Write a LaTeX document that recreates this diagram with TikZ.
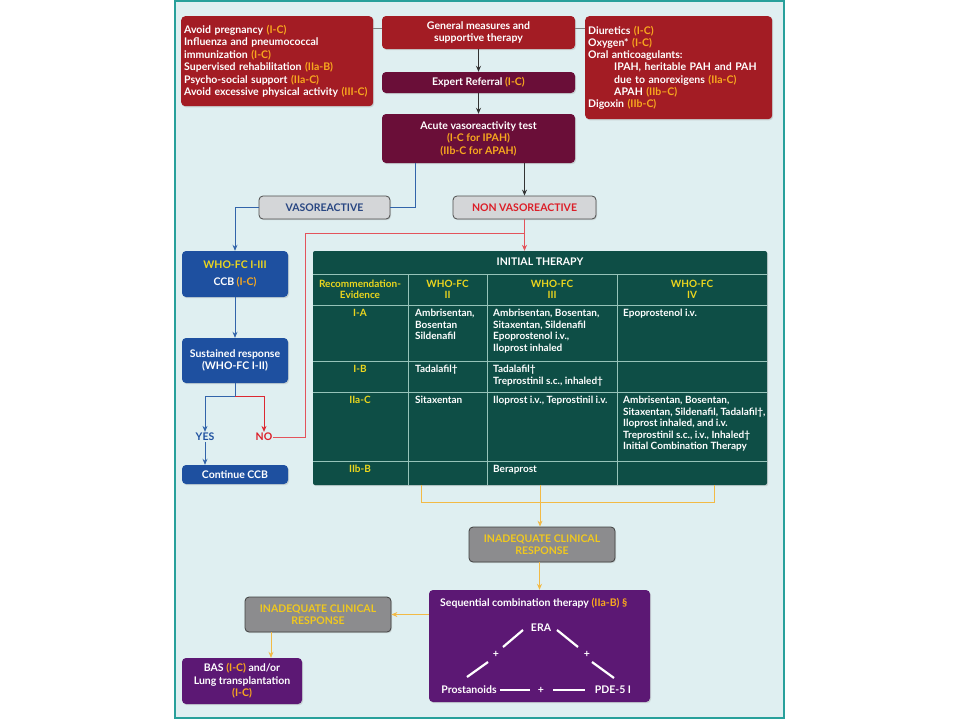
\documentclass[tikz,border=0pt]{standalone}
\usepackage{fontspec}
\setmainfont{Lato}
\usetikzlibrary{arrows.meta,shadows}
\definecolor{bgc}{RGB}{223,239,241}
\definecolor{framec}{RGB}{40,160,155}
\definecolor{redc}{RGB}{163,28,36}
\definecolor{maroonc}{RGB}{106,14,56}
\definecolor{bluec}{RGB}{30,80,160}
\definecolor{navyt}{RGB}{40,70,130}
\definecolor{redt}{RGB}{220,30,40}
\definecolor{grayA}{RGB}{212,214,216}
\definecolor{grayB}{RGB}{140,140,142}
\definecolor{greenc}{RGB}{14,78,70}
\definecolor{gridc}{RGB}{150,195,185}
\definecolor{purplec}{RGB}{92,24,116}
\definecolor{orangeT}{RGB}{248,168,30}
\definecolor{yellowT}{RGB}{236,214,30}
\definecolor{inadT}{RGB}{240,200,30}
\definecolor{orangeL}{RGB}{242,186,70}
\definecolor{blueL}{RGB}{50,100,170}
\definecolor{redL}{RGB}{220,40,50}
\newcommand\ho[1]{\textcolor{orangeT}{#1}}
\newcommand\hy[1]{\textcolor{yellowT}{#1}}
\tikzset{
  base/.style={rounded corners=4pt, text=white, font=\bfseries\fontsize{10.5}{12.5}\selectfont, inner sep=3pt,
    drop shadow={opacity=0.25, shadow xshift=1pt, shadow yshift=-1.2pt}},
  redbox/.style={base, fill=redc},
  maroonbox/.style={base, fill=maroonc},
  bluebox/.style={base, fill=bluec},
  purplebox/.style={base, fill=purplec},
  graybox/.style={base, fill=grayA, draw=black!70, line width=0.8pt},
  inadbox/.style={base, fill=grayB, draw=black!75, line width=0.8pt, text=inadT},
  tablebox/.style={fill=greenc, rounded corners=2pt, drop shadow={opacity=0.25, shadow xshift=1pt, shadow yshift=-1.2pt}},
  cell/.style={text=white, font=\bfseries\fontsize{10}{11.5}\selectfont, align=left, inner sep=0pt, anchor=north west},
  chead/.style={text=yellowT, font=\bfseries\fontsize{10}{11}\selectfont, align=center, inner sep=0pt},
  arr/.style={-{Stealth[length=6pt,width=5pt]}},
  blk/.style={draw=black!80, line width=0.8pt},
  bl/.style={draw=blueL, line width=0.9pt},
  rd/.style={draw=redL, line width=0.9pt},
  rdthin/.style={draw=redL!80, line width=0.6pt},
  og/.style={draw=orangeL, line width=0.8pt},
  grid/.style={draw=gridc, line width=0.8pt},
  plusnode/.style={text=white, font=\bfseries\fontsize{10.5}{12}\selectfont, inner sep=1pt},
  wline/.style={draw=white, line width=2.2pt},
}
\begin{document}
\begin{tikzpicture}[x=1pt,y=-1pt]
\useasboundingbox (0,0) rectangle (960,720);
\fill[white] (0,0) rectangle (960,720);
\fill[bgc] (175,1) rectangle (784,718);
\draw[framec, line width=1.5pt] (175,1) rectangle (784,718);

% top boxes
\node[redbox, anchor=north west, minimum width=192pt, minimum height=90pt, text width=186pt, align=left] (gl) at (181,16)
 {Avoid pregnancy \ho{(I-C)}\\Influenza and pneumococcal\\immunization \ho{(I-C)}\\Supervised rehabilitation \ho{(IIa-B)}\\Psycho-social support \ho{(IIa-C)}\\Avoid excessive physical activity \ho{(III-C)}};
\node[redbox, minimum width=193pt, minimum height=33pt, align=center] (gen) at (478.5,32.5) {General measures and\\supportive therapy};
\node[maroonbox, minimum width=193pt, minimum height=21pt] (exp) at (478.5,82.5) {Expert Referral \ho{(I-C)}};
\node[maroonbox, minimum width=193pt, minimum height=49pt, align=center] (acute) at (478.5,138.5) {Acute vasoreactivity test\\\ho{(I-C for IPAH)}\\\ho{(IIb-C for APAH)}};
\node[redbox, anchor=north west, minimum width=187pt, minimum height=103pt, text width=181pt, align=left, font=\bfseries\fontsize{10.5}{12.2}\selectfont] (gr) at (585,16)
 {Diuretics \ho{(I-C)}\\Oxygen* \ho{(I-C)}\\Oral anticoagulants:\\\hspace*{26pt}IPAH, heritable PAH and PAH\\\hspace*{26pt}due to anorexigens \ho{(IIa-C)}\\\hspace*{26pt}APAH \ho{(IIb--C)}\\Digoxin \ho{(IIb-C)}};

\draw[draw=gray, line width=0.8pt] (gl.east |- 0,28) -- (gen.west |- 0,28);
\draw[draw=gray, line width=0.8pt] (gen.east |- 0,28) -- (gr.west |- 0,28);
\draw[blk,arr] (gen.south) -- (exp.north);
\draw[blk,arr] (exp.south) -- (acute.north);

% vasoreactive split
\node[graybox, minimum width=131pt, minimum height=23pt, text=navyt] (vaso) at (324.5,207.5) {VASOREACTIVE};
\node[graybox, minimum width=143pt, minimum height=23pt, text=redt] (nonv) at (524.5,207.5) {NON VASOREACTIVE};
\draw[bl] (acute.south -| 415,0) |- (vaso.east);
\draw[blk,arr] (acute.south -| nonv.north) -- (nonv.north);

% left column
\node[bluebox, minimum width=106pt, minimum height=46pt, align=center] (who) at (235,274) {\hy{WHO-FC I-III}\\[5pt]CCB \ho{(I-C)}};
\node[bluebox, minimum width=106pt, minimum height=45pt, align=center] (sust) at (235,360.5) {Sustained response\\(WHO-FC I-II)};
\node[bluebox, minimum width=106pt, minimum height=19pt] (cont) at (235,474.5) {Continue CCB};
\node[text=bluec, font=\bfseries\fontsize{10.5}{12}\selectfont, inner sep=1pt] (yes) at (205,437) {YES};
\node[text=redt, font=\bfseries\fontsize{10.5}{12}\selectfont, inner sep=1pt] (no) at (264,437) {NO};
\coordinate (split) at (235,396);
\draw[bl,arr] (vaso.west) -| (who.north);
\draw[bl,arr] (who.south) -- (sust.north);
\draw[bl,arr] (sust.south) -- (split) -| (yes.north);
\draw[rd,arr] (split) -| (no.north);
\draw[bl,arr] (yes.south) -- (yes.south |- cont.north);

% table
\node[tablebox, minimum width=454pt, minimum height=234pt, inner sep=0pt] (tbl) at (540,368) {};
\coordinate (rc) at (305,233);
\coordinate (rj) at (524,233);
\draw[rdthin] (no.east) -| (rc) -- (rj);
\draw[rdthin,arr] (nonv.south) -- (nonv.south |- tbl.north);

\draw[grid] (313,274) -- (767,274);
\draw[grid] (313,305) -- (767,305);
\draw[grid] (313,361) -- (767,361);
\draw[grid] (313,392) -- (767,392);
\draw[grid] (313,461) -- (767,461);
\draw[grid] (408,274) -- (408,485);
\draw[grid] (487,274) -- (487,485);
\draw[grid] (617,274) -- (617,485);

\node[text=white, font=\bfseries\fontsize{10.5}{12}\selectfont] (ith) at (540,262) {INITIAL THERAPY};
\node[chead] (h1) at (360,289.5) {Recommendation-\\Evidence};
\node[chead] (h2) at (447.5,289.5) {WHO-FC\\II};
\node[chead] (h3) at (552,289.5) {WHO-FC\\III};
\node[chead] (h4) at (692,289.5) {WHO-FC\\IV};

\node[chead, anchor=north] (r1) at (360,309) {I-A};
\node[chead, anchor=north] (r2) at (360,365) {I-B};
\node[chead, anchor=north] (r3) at (360,396) {IIa-C};
\node[chead, anchor=north] (r4) at (360,465) {IIb-B};

\node[cell] (c12) at (415,309) {Ambrisentan,\\Bosentan\\Sildenafil};
\node[cell] (c13) at (493,309) {Ambrisentan, Bosentan,\\Sitaxentan, Sildenafil\\Epoprostenol i.v.,\\Iloprost inhaled};
\node[cell] (c14) at (623,309) {Epoprostenol i.v.};
\node[cell] (c22) at (415,365) {Tadalafil\textdagger};
\node[cell] (c23) at (493,365) {Tadalafil\textdagger\\Treprostinil s.c., inhaled\textdagger};
\node[cell] (c32) at (415,396) {Sitaxentan};
\node[cell] (c33) at (493,396) {Iloprost i.v., Teprostinil i.v.};
\node[cell] (c34) at (623,396) {Ambrisentan, Bosentan,\\Sitaxentan, Sildenafil, Tadalafil\textdagger,\\Iloprost inhaled, and i.v.\\Treprostinil s.c., i.v., Inhaled\textdagger\\Initial Combination Therapy};
\node[cell] (c43) at (493,465) {Beraprost};

% bottom flow
\node[inadbox, minimum width=146pt, minimum height=35pt, align=center] (inad1) at (542,544.5) {INADEQUATE CLINICAL\\RESPONSE};
\draw[og] (tbl.south -| 421,0) -- (421,502) -- (714,502) -- (tbl.south -| 714,0);
\draw[og,arr] (tbl.south) -- (tbl.south |- inad1.north);

\node[purplebox, minimum width=221pt, minimum height=112pt] (seq) at (539.5,646) {};
\draw[og,arr] (seq.north |- inad1.south) -- (seq.north);
\node[text=white, font=\bfseries\fontsize{10.5}{12}\selectfont, anchor=west, inner sep=0pt] (seqt) at (440,603) {Sequential combination therapy \ho{(IIa-B) \S}};
\node[plusnode] (era) at (541,628) {ERA};
\node[plusnode] (pro) at (469,690) {Prostanoids};
\node[plusnode] (pde) at (613,690) {PDE-5 I};
\node[plusnode] (p1) at (496,654) {+};
\node[plusnode] (p2) at (587,654) {+};
\node[plusnode] (p3) at (541,690) {+};
\draw[wline] (503,647) -- (523,630);
\draw[wline] (467,677) -- (488,662);
\draw[wline] (557,630) -- (578,647);
\draw[wline] (592,662) -- (614,678);
\draw[wline] (pro.east -| 500,0) -- (530,690);
\draw[wline] (553,690) -- (pde.west -| 585,0);

\node[inadbox, minimum width=146pt, minimum height=35pt, align=center] (inad2) at (318,614.5) {INADEQUATE CLINICAL\\RESPONSE};
\draw[og,arr] (seq.west |- inad2.east) -- (inad2.east);
\node[purplebox, minimum width=120pt, minimum height=46pt, align=center] (bas) at (242,681) {BAS \ho{(I-C)} and/or\\Lung transplantation\\\ho{(I-C)}};
\draw[og,arr] (inad2.south -| 271,0) -- (bas.north -| 271,0);
\end{tikzpicture}
\end{document}
